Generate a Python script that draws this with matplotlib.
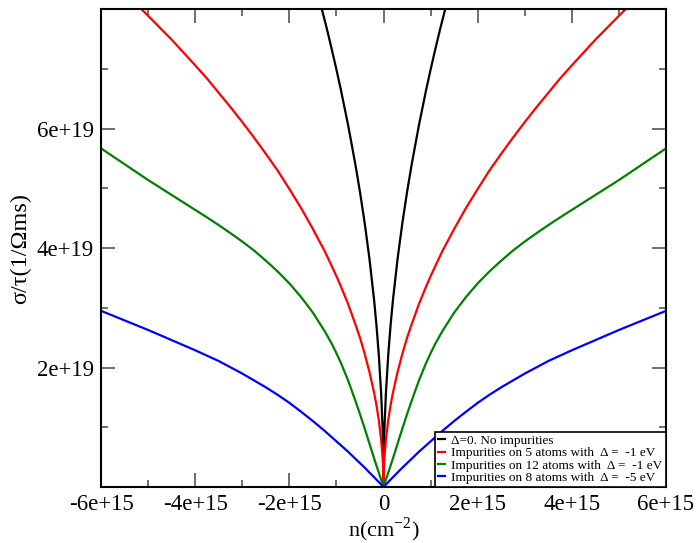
import matplotlib
matplotlib.use("Agg")
import matplotlib.pyplot as plt
from matplotlib.ticker import FixedLocator, FuncFormatter

plt.rcParams['font.family'] = ['Liberation Serif', 'DejaVu Serif']
plt.rcParams['mathtext.fontset'] = 'custom'
plt.rcParams['mathtext.rm'] = 'Liberation Serif'

# values (n in 1e15 cm^-2, sigma/tau in 1e19 1/(Ohm m s))
n_black = [-1.5, -1.4, -1.3, -1.2, -1.1, -1.0, -0.9, -0.75, -0.6, -0.5, -0.4, -0.3,
           -0.2, -0.15, -0.1, -0.05, -0.02, -0.01, 0,
           0.01, 0.02, 0.05, 0.1, 0.15, 0.2, 0.3, 0.4, 0.5, 0.6, 0.75, 0.9, 1.0,
           1.1, 1.2, 1.3, 1.4, 1.5]
s_black = [8.56, 8.27, 7.97, 7.66, 7.33, 6.99, 6.63, 6.05, 5.41, 4.94, 4.42, 3.83,
           3.13, 2.71, 2.21, 1.56, 0.99, 0.70, 0,
           0.70, 0.99, 1.56, 2.21, 2.71, 3.13, 3.83, 4.42, 4.94, 5.41, 6.05, 6.63, 6.99,
           7.33, 7.66, 7.97, 8.27, 8.56]

n_all = [-6.0, -5.5, -5.0, -4.5, -4.0, -3.75, -3.5, -3.25, -3.0, -2.75, -2.5, -2.25,
         -2.0, -1.75, -1.5, -1.25, -1.1, -1.0, -0.9, -0.75, -0.6, -0.5, -0.4, -0.3,
         -0.2, -0.15, -0.1, -0.05, -0.02, -0.01, 0,
         0.01, 0.02, 0.05, 0.1, 0.15, 0.2, 0.3, 0.4, 0.5, 0.6, 0.75, 0.9, 1.0,
         1.1, 1.25, 1.5, 1.75, 2.0, 2.25, 2.5, 2.75, 3.0, 3.25, 3.5, 3.75, 4.0,
         4.5, 5.0, 5.5, 6.0]
s_red = [8.65, 8.28, 7.89, 7.49, 7.06, 6.84, 6.6, 6.36, 6.11, 5.85, 5.58, 5.30,
         4.99, 4.67, 4.32, 3.95, 3.70, 3.53, 3.35, 3.06, 2.73, 2.5, 2.23, 1.93,
         1.58, 1.37, 1.12, 0.79, 0.5, 0.35, 0,
         0.35, 0.5, 0.79, 1.12, 1.37, 1.58, 1.93, 2.23, 2.5, 2.73, 3.06, 3.35, 3.53,
         3.70, 3.95, 4.32, 4.67, 4.99, 5.30, 5.58, 5.85, 6.11, 6.36, 6.6, 6.84, 7.06,
         7.49, 7.89, 8.28, 8.65]
s_green = [5.67, 5.405, 5.14, 4.89, 4.64, 4.515, 4.385, 4.25, 4.11, 3.96, 3.79, 3.61,
           3.41, 3.18, 2.92, 2.61, 2.40, 2.24, 2.07, 1.78, 1.45, 1.22, 0.98, 0.73,
           0.48, 0.36, 0.24, 0.12, 0.048, 0.024, 0,
           0.024, 0.048, 0.12, 0.24, 0.36, 0.48, 0.73, 0.98, 1.22, 1.45, 1.78, 2.07, 2.24,
           2.40, 2.61, 2.92, 3.18, 3.41, 3.61, 3.79, 3.96, 4.11, 4.25, 4.385, 4.515, 4.64,
           4.89, 5.14, 5.405, 5.67]
s_blue = [2.95, 2.79, 2.63, 2.46, 2.29, 2.20, 2.11, 2.005, 1.90, 1.785, 1.67, 1.545,
          1.41, 1.26, 1.105, 0.94, 0.835, 0.765, 0.695, 0.59, 0.475, 0.40, 0.325, 0.245,
          0.165, 0.125, 0.083, 0.042, 0.017, 0.008, 0,
          0.008, 0.017, 0.042, 0.083, 0.125, 0.165, 0.245, 0.325, 0.40, 0.475, 0.59, 0.695, 0.765,
          0.835, 0.94, 1.105, 1.26, 1.41, 1.545, 1.67, 1.785, 1.90, 2.005, 2.11, 2.20, 2.29,
          2.46, 2.63, 2.79, 2.95]

labels = ["Δ=0. No impurities",
          "Impurities on 5 atoms with  Δ =  -1 eV",
          "Impurities on 12 atoms with  Δ =  -1 eV",
          "Impurities on 8 atoms with  Δ =  -5 eV"]

x_ticks = [-6e15, -4e15, -2e15, 0, 2e15, 4e15, 6e15]
x_minor = [-5e15, -3e15, -1e15, 1e15, 3e15, 5e15]
y_ticks = [2e19, 4e19, 6e19]
y_minor = [1e19, 3e19, 5e19, 7e19]

fig = plt.figure(figsize=(6.97, 5.43), dpi=100)
ax = fig.add_axes([0.145, 0.103, 0.8105, 0.880])

ax.plot([v * 1e15 for v in n_black], [v * 1e19 for v in s_black], color='black', lw=1.6, label=labels[0])
ax.plot([v * 1e15 for v in n_all], [v * 1e19 for v in s_red], color='red', lw=1.6, label=labels[1])
ax.plot([v * 1e15 for v in n_all], [v * 1e19 for v in s_green], color='green', lw=1.6, label=labels[2])
ax.plot([v * 1e15 for v in n_all], [v * 1e19 for v in s_blue], color='blue', lw=1.6, label=labels[3])

ax.set_xlim(-6e15, 6e15)
ax.set_ylim(0, 8e19)

ax.xaxis.set_major_locator(FixedLocator(x_ticks))
ax.xaxis.set_minor_locator(FixedLocator(x_minor))
ax.yaxis.set_major_locator(FixedLocator(y_ticks))
ax.yaxis.set_minor_locator(FixedLocator(y_minor))


def fmt(exp):
    def f(v, pos):
        if v == 0:
            return "0"
        return "%de+%d" % (round(v / 10 ** exp), exp)
    return f


ax.xaxis.set_major_formatter(FuncFormatter(fmt(15)))
ax.yaxis.set_major_formatter(FuncFormatter(fmt(19)))

ax.tick_params(which='both', direction='in', top=True, right=True, color='#555555')
ax.tick_params(which='major', length=10, width=1.2, labelsize=16.5, pad=5)
ax.tick_params(which='minor', length=5, width=1.2)
for s in ax.spines.values():
    s.set_linewidth(1.5)

ax.set_xlabel("n(cm$^{-2}$)", fontsize=16, labelpad=0)
ax.set_ylabel("σ/τ(1/Ωms)", fontsize=17.5, labelpad=4)

leg = ax.legend(loc='lower right', fontsize=9.5, handlelength=0.5, handletextpad=0.5,
                borderaxespad=0, borderpad=0.25, labelspacing=0.0, fancybox=False,
                framealpha=1, edgecolor='black')
leg.get_frame().set_linewidth(1.2)

fig.savefig("out.png", dpi=100)
